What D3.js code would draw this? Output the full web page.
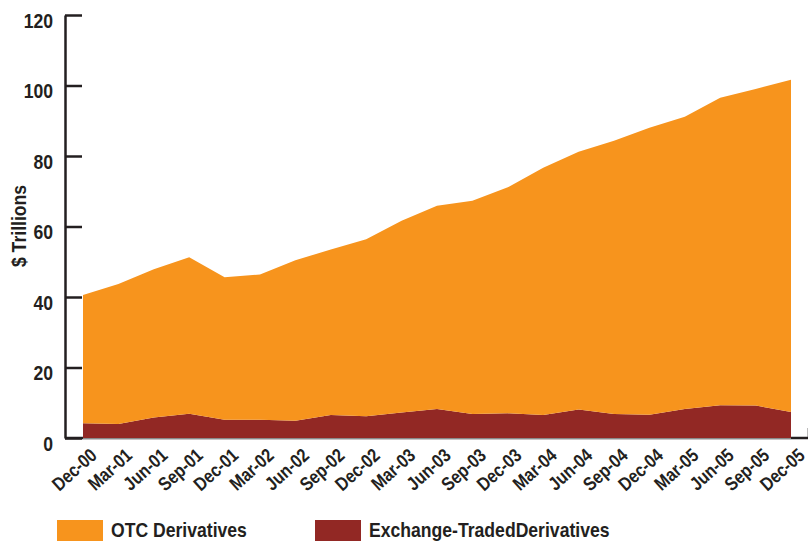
<!DOCTYPE html>
<meta charset="utf-8">
<head>
<style>
  body { margin: 0; background: #fff; }
  svg text { font-family: "Liberation Sans", Arial, sans-serif; font-weight: bold; fill: #231f20; }
  .axis path, .axis line { fill: none; stroke: #231f20; stroke-width: 2.5; }
</style>
</head>
<body>
<script src="https://d3js.org/d3.v7.min.js"></script>
<script>
var quarters = ["Dec-00","Mar-01","Jun-01","Sep-01","Dec-01","Mar-02","Jun-02","Sep-02","Dec-02",
  "Mar-03","Jun-03","Sep-03","Dec-03","Mar-04","Jun-04","Sep-04","Dec-04","Mar-05","Jun-05","Sep-05","Dec-05"];

// $ trillions
var exchangeTraded = [4.2,4.0,5.8,6.9,5.2,5.2,4.9,6.5,6.2,7.2,8.2,6.8,7.0,6.5,8.1,6.8,6.6,8.2,9.3,9.2,7.4];
var otc = [36.4,39.7,42.1,44.4,40.4,41.2,45.5,47.0,50.2,54.4,57.7,60.5,64.1,70.2,73.1,77.5,81.4,82.9,87.2,89.8,94.2];

var yTicks = [0,20,40,60,80,100,120];
var seriesNames = ["Exchange-TradedDerivatives","OTC Derivatives"];
var colors = {"OTC Derivatives": "#f7941d", "Exchange-TradedDerivatives": "#922824"};

var width = 808, height = 545;
var axisX = 65;
var narrow = "scale(0.88,1)";   // condensed look

var svg = d3.select("body").append("svg")
  .attr("width", width)
  .attr("height", height);

var x = d3.scalePoint().domain(quarters).range([83, 791]);
var y = d3.scaleLinear().domain([0, 120]).range([438, 15]);

var table = quarters.map(function(q, i) {
  return {q: q, "Exchange-TradedDerivatives": exchangeTraded[i], "OTC Derivatives": otc[i]};
});
var stacked = d3.stack().keys(seriesNames)(table);

var area = d3.area()
  .x(function(d) { return x(d.data.q); })
  .y0(function(d) { return y(d[0]); })
  .y1(function(d) { return y(d[1]); });

// bottom axis line
var step = x.step();
svg.append("line")
  .attr("x1", axisX).attr("x2", width)
  .attr("y1", y(0)).attr("y2", y(0))
  .attr("stroke", "#231f20").attr("stroke-width", 2.5);
svg.append("line")
  .attr("x1", x(quarters[quarters.length - 1]) + step / 2)
  .attr("x2", x(quarters[quarters.length - 1]) + step / 2)
  .attr("y1", y(0)).attr("y2", y(0) - 10)
  .attr("stroke", "#231f20").attr("stroke-width", 2);

// stacked areas
svg.selectAll(".layer")
  .data(stacked)
  .enter()
  .append("path")
  .attr("class", "layer")
  .attr("fill", function(d) { return colors[d.key]; })
  .attr("d", area);

svg.append("line")
  .attr("x1", x.range()[0]).attr("x2", x.range()[1])
  .attr("y1", y(0) + 0.5).attr("y2", y(0) + 0.5)
  .attr("stroke", "#8a8a8a").attr("stroke-width", 1);

// y axis, ticks point inward
var yAxis = d3.axisLeft(y)
  .tickValues(yTicks)
  .tickSizeInner(-17)
  .tickSizeOuter(0);

var gy = svg.append("g")
  .attr("class", "axis")
  .attr("transform", "translate(" + axisX + ",0)")
  .call(yAxis);
gy.selectAll("text")
  .attr("x", 0)
  .attr("dy", 12)
  .attr("transform", "translate(-12,0) " + narrow)
  .style("font-size", "20px")
  .style("font-family", null);

svg.append("text")
  .attr("transform", "translate(26,226) rotate(-90) " + narrow)
  .attr("text-anchor", "middle")
  .style("font-size", "20px")
  .text("$ Trillions");

// x labels
svg.append("g")
  .selectAll("text")
  .data(quarters)
  .enter()
  .append("text")
  .attr("text-anchor", "end")
  .attr("transform", function(d) {
    return "translate(" + (x(d) + 15) + ",457) rotate(-42) scale(0.84,1)";
  })
  .style("font-size", "19px")
  .text(function(d) { return d; });

// legend
var legendItems = [
  {name: "OTC Derivatives", x: 57},
  {name: "Exchange-TradedDerivatives", x: 315}
];
var lg = svg.selectAll(".legend")
  .data(legendItems)
  .enter()
  .append("g")
  .attr("class", "legend")
  .attr("transform", function(d) { return "translate(" + d.x + ",520)"; });
lg.append("rect")
  .attr("width", 46)
  .attr("height", 21)
  .attr("fill", function(d) { return colors[d.name]; });
lg.append("text")
  .attr("transform", "translate(54,17) " + narrow)
  .style("font-size", "20px")
  .text(function(d) { return d.name; });
</script>
</body>
